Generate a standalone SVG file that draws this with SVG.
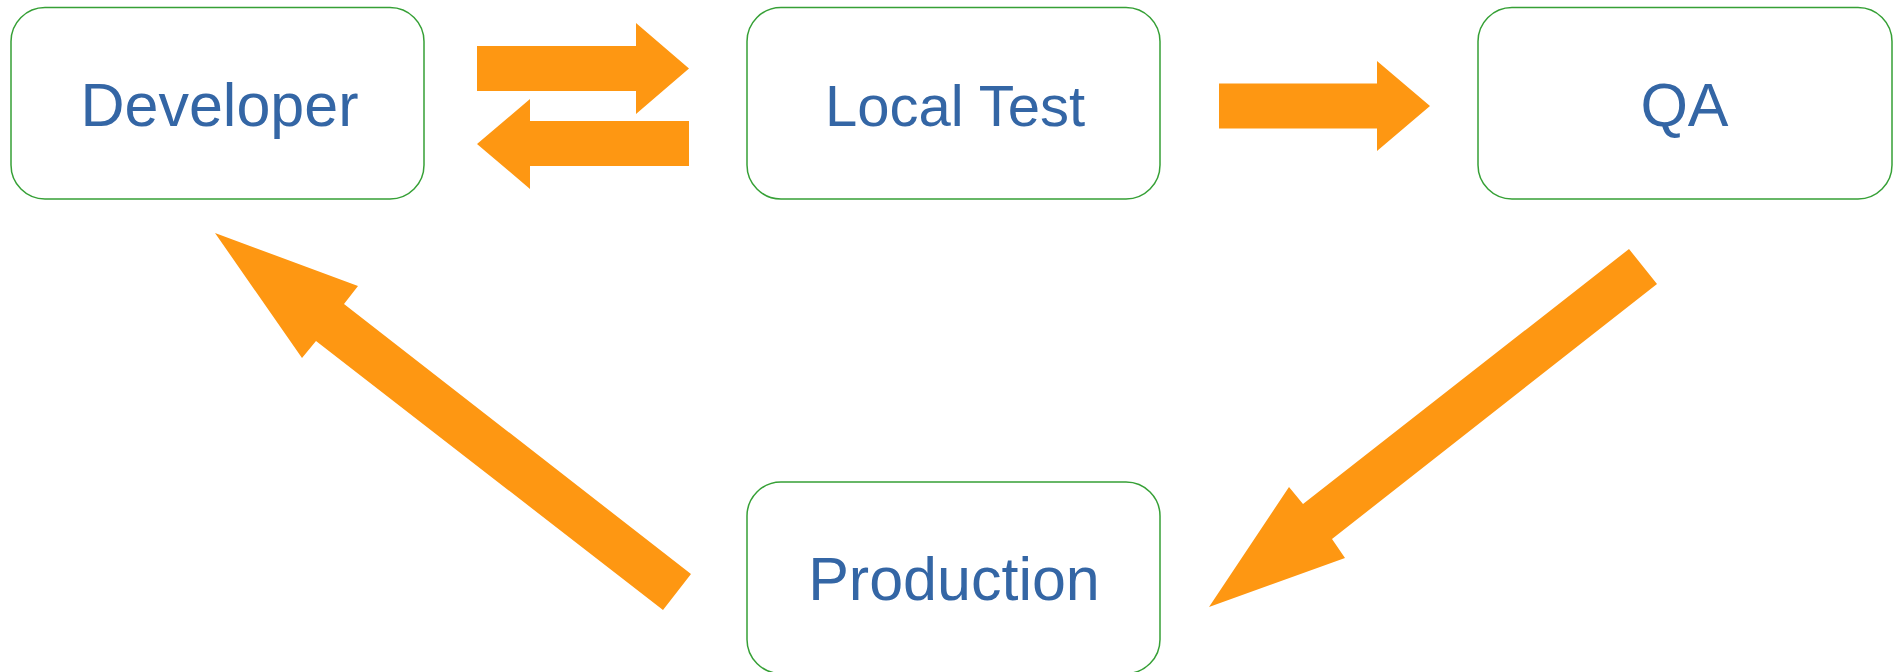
<svg xmlns="http://www.w3.org/2000/svg" width="1896" height="672" viewBox="0 0 1896 672">
  <style>
    .box { fill: #ffffff; stroke: #36a036; stroke-width: 1.5; }
    .label { font-family: "Liberation Sans", Arial, sans-serif; font-size: 61px; fill: #3466a5; text-anchor: middle; }
    .arrow { fill: #fe9712; stroke: none; }
  </style>
  <rect width="1896" height="672" fill="#ffffff"/>
  <g id="connectors">
    <polygon class="arrow" points="477,46 636,46 636,23 689,68.5 636,114 636,91 477,91"/>
    <polygon class="arrow" points="689,121 530,121 530,99 477,144 530,189 530,166 689,166"/>
    <polygon class="arrow" points="1219,83.5 1377,83.5 1377,61 1430,106 1377,151 1377,128.5 1219,128.5"/>
    <polygon class="arrow" points="1629,249 1657,284 1332,539 1345,558 1209,607 1289,487 1303,504"/>
    <polygon class="arrow" points="215,233 358,286 344,304 691,574 663,610 316,341 302,358"/>
  </g>
  <g id="developer">
    <rect class="box" x="11" y="7.5" width="413" height="191.5" rx="34" ry="34"/>
    <text class="label" x="219.5" y="126">Developer</text>
  </g>
  <g id="local-test">
    <rect class="box" x="747" y="7.5" width="413" height="191.5" rx="34" ry="34"/>
    <text class="label" x="955" y="126" style="font-size:58px">Local Test</text>
  </g>
  <g id="qa">
    <rect class="box" x="1478" y="7.5" width="414" height="191.5" rx="34" ry="34"/>
    <text class="label" x="1684.5" y="126">QA</text>
  </g>
  <g id="production">
    <rect class="box" x="747" y="482" width="413" height="191.5" rx="34" ry="34"/>
    <text class="label" x="954" y="600">Production</text>
  </g>
</svg>
